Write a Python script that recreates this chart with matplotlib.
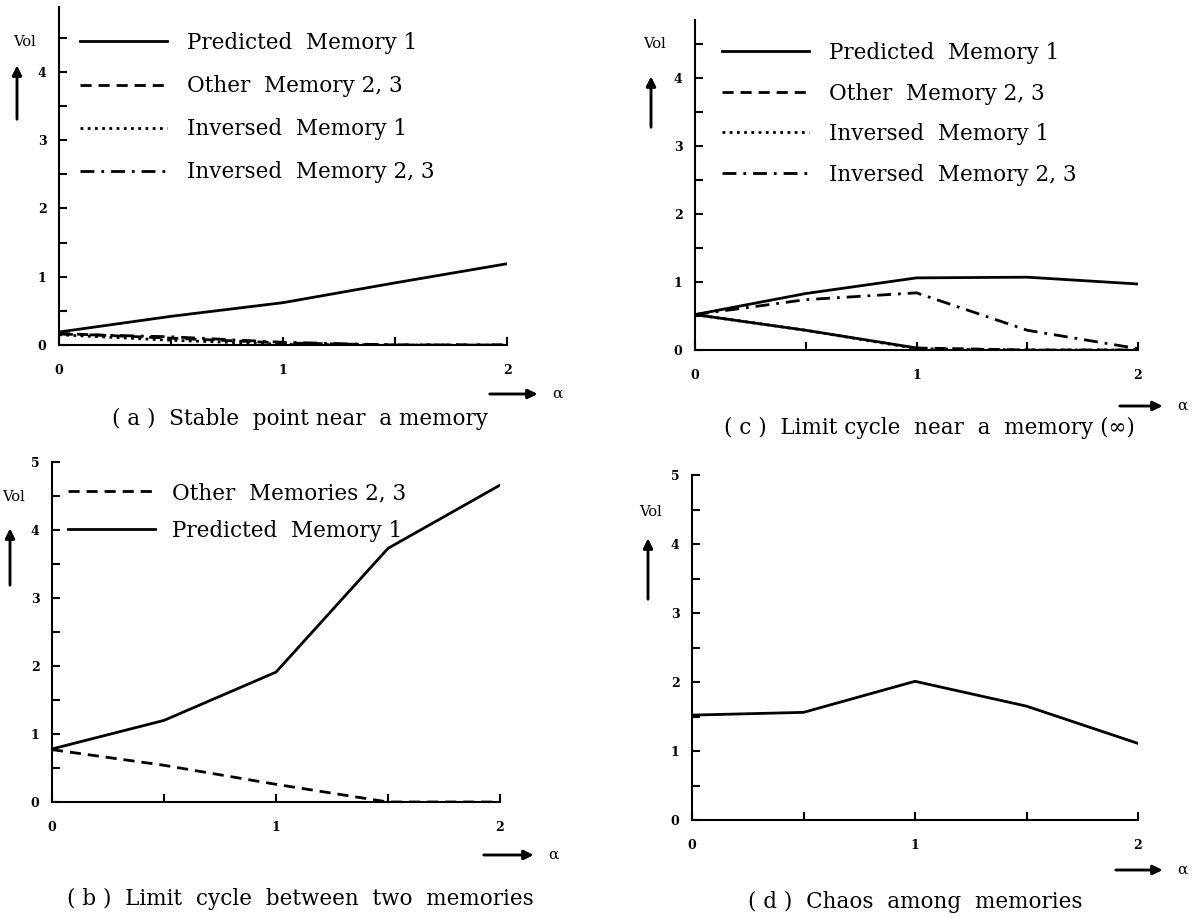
import matplotlib.pyplot as plt
from matplotlib.ticker import MultipleLocator

W, H = 1197, 918

alpha = [0, 0.5, 1.0, 1.5, 2.0]

# (a) stable point near a memory
a_pred = [0.19, 0.42, 0.62, 0.91, 1.19]
a_other = [0.17, 0.10, 0.03, 0.0, 0.0]
a_inv1 = [0.15, 0.07, 0.01, 0.0, 0.0]
a_inv23 = [0.16, 0.12, 0.04, 0.0, 0.0]

# (c) limit cycle near a memory
c_pred = [0.52, 0.83, 1.06, 1.07, 0.97]
c_other = [0.52, 0.29, 0.03, 0.0, 0.0]
c_inv1 = [0.52, 0.29, 0.02, 0.0, 0.0]
c_inv23 = [0.52, 0.74, 0.84, 0.29, 0.02]

# (b) limit cycle between two memories
b_other = [0.77, 0.54, 0.26, 0.0, 0.0]
b_pred = [0.78, 1.20, 1.91, 3.73, 4.66]

# (d) chaos among memories
d_vol = [1.52, 1.56, 2.01, 1.65, 1.11]

SERIF = 'DejaVu Serif'
SOLID = '-'
DASH = (0, (4, 2.5))
DOT = (0, (1, 1.6))
DASHDOT = (0, (5, 2.5, 1, 2.5))
LW = 2.0

fig = plt.figure(figsize=(W / 100, H / 100), dpi=100)


def make_axes(x0, x2, y0, ytop, ymax, ylabels):
    # pixel positions (from the top-left) of alpha=0, alpha=2, vol=0 and axis top
    ax = fig.add_axes([x0 / W, 1 - y0 / H, (x2 - x0) / W, (y0 - ytop) / H])
    ax.set_xlim(0, 2)
    ax.set_ylim(0, ymax)
    for s in ['top', 'right']:
        ax.spines[s].set_visible(False)
    for s in ['left', 'bottom']:
        ax.spines[s].set_linewidth(1.5)
    ax.set_xticks([0, 1, 2])
    ax.set_xticklabels(['0', '1', '2'])
    ax.xaxis.set_minor_locator(MultipleLocator(0.5))
    ax.set_yticks(range(len(ylabels)))
    ax.set_yticklabels(ylabels)
    ax.yaxis.set_minor_locator(MultipleLocator(0.5))
    ax.tick_params(which='both', direction='in', length=6, width=1.5)
    ax.tick_params(axis='x', pad=14)
    ax.tick_params(axis='y', pad=9)
    for lab in ax.get_xticklabels() + ax.get_yticklabels():
        lab.set_fontfamily(SERIF)
        lab.set_fontweight('bold')
        lab.set_fontsize(9)
    ax.patch.set_alpha(0)
    return ax


def arrow(x0, y0, x1, y1):
    fig.add_artist(plt.annotate('', xy=(x1, H - y1), xytext=(x0, H - y0),
                                xycoords='figure pixels', textcoords='figure pixels',
                                arrowprops=dict(arrowstyle='-|>', lw=1.8, color='black',
                                                mutation_scale=14)))


def decorate(vol_xy, vol_arrow, alpha_arrow, cap_xy, caption):
    fig.text(vol_xy[0] / W, 1 - vol_xy[1] / H, 'Vol', fontsize=10.5, family=SERIF,
             ha='center', va='center')
    ax_, y0, y1 = vol_arrow
    arrow(ax_, y0, ax_, y1)
    x0, x1, ay = alpha_arrow
    arrow(x0, ay, x1, ay)
    fig.text((x1 + 17) / W, 1 - ay / H, 'α', fontsize=11, family=SERIF,
             ha='center', va='center')
    fig.text(cap_xy[0] / W, 1 - cap_xy[1] / H, caption, fontsize=15.5, family=SERIF,
             ha='center', va='center')


def legend(ax, handles, labels, x, y, spacing, textpad=0.93):
    ax.legend(handles, labels, loc='upper left', bbox_to_anchor=(x / W, 1 - y / H),
              bbox_transform=fig.transFigure, frameon=False, borderpad=0, borderaxespad=0,
              handlelength=4.05, handletextpad=textpad, labelspacing=spacing,
              prop={'family': SERIF, 'size': 15.5})


# (a)
ax = make_axes(59, 507, 345, 7, 4.95, ['0', '1', '2', '3', '4'])
l1, = ax.plot(alpha, a_pred, ls=SOLID, color='black', lw=LW)
l2, = ax.plot(alpha, a_other, ls=DASH, color='black', lw=LW)
l3, = ax.plot(alpha, a_inv1, ls=DOT, color='black', lw=LW)
l4, = ax.plot(alpha, a_inv23, ls=DASHDOT, color='black', lw=LW)
legend(ax, [l1, l2, l3, l4],
       ['Predicted  Memory 1', 'Other  Memory 2, 3', 'Inversed  Memory 1', 'Inversed  Memory 2, 3'],
       80, 32, 0.98)
decorate((25, 42), (17, 122, 63), (487, 540, 394), (300, 419),
         '( a )  Stable  point near  a memory')

# (c)
ax = make_axes(695, 1138, 350, 20, 4.85, ['0', '1', '2', '3', '4'])
l1, = ax.plot(alpha, c_pred, ls=SOLID, color='black', lw=LW)
ax.plot(alpha[:3], c_other[:3], ls=SOLID, color='black', lw=LW)
l2, = ax.plot(alpha[2:], c_other[2:], ls=DASH, color='black', lw=LW)
l3, = ax.plot(alpha, c_inv1, ls=DOT, color='black', lw=LW)
l4, = ax.plot(alpha, c_inv23, ls=DASHDOT, color='black', lw=LW)
legend(ax, [l1, l2, l3, l4],
       ['Predicted  Memory 1', 'Other  Memory 2, 3', 'Inversed  Memory 1', 'Inversed  Memory 2, 3'],
       722, 42, 0.86)
decorate((655, 44), (651, 130, 74), (1117, 1165, 406), (929, 428),
         '( c )  Limit cycle  near  a  memory (∞)')

# (b)
ax = make_axes(52, 500, 802, 462, 5, ['0', '1', '2', '3', '4', '5'])
l2, = ax.plot(alpha, b_other, ls=DASH, color='black', lw=LW)
l1, = ax.plot(alpha, b_pred, ls=SOLID, color='black', lw=LW)
legend(ax, [l2, l1], ['Other  Memories 2, 3', 'Predicted  Memory 1'], 68, 482, 0.72, 0.8)
decorate((14, 497), (10, 588, 526), (481, 536, 855), (300, 899),
         '( b )  Limit  cycle  between  two  memories')

# (d)
ax = make_axes(692, 1138, 820, 475, 5, ['0', '1', '2', '3', '4', '5'])
ax.plot(alpha, d_vol, ls=SOLID, color='black', lw=LW)
decorate((651, 512), (648, 602, 536), (1113, 1165, 870), (915, 902),
         '( d )  Chaos  among  memories')

fig.savefig('out.png', dpi=100, facecolor='white')
